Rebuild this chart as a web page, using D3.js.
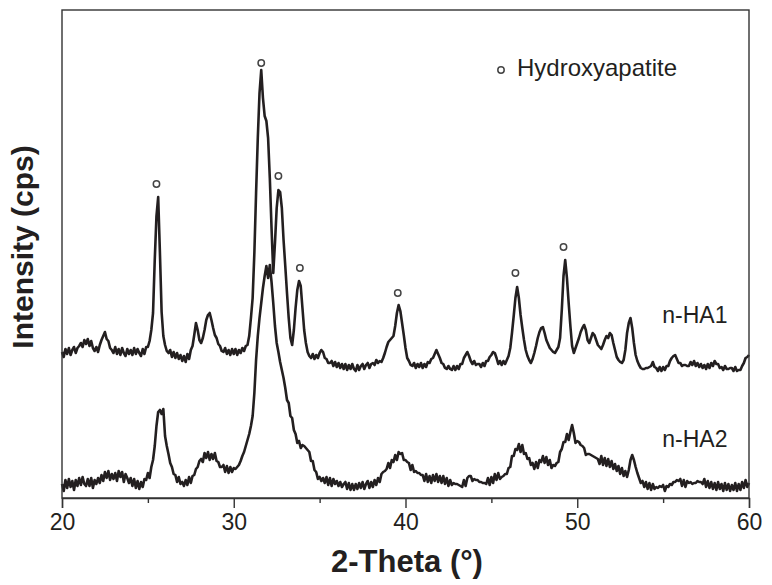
<!DOCTYPE html>
<html>
<head>
<meta charset="utf-8">
<script src="https://cdn.jsdelivr.net/npm/d3@7.9.0/dist/d3.min.js"></script>
<style>
  body { margin: 0; background: #fff; }
  svg { display: block; font-family: "Liberation Sans", Arial, sans-serif; }
</style>
</head>
<body>
<svg id="chart" width="772" height="585"></svg>
<script>
// 2-theta grid of the scan (degrees)
const angleStart = 20;
const angleStep = 0.1;

// intensity (arbitrary cps), one value per 0.1 deg
const ha1 = [
  146, 141, 149, 144, 150, 143, 148, 151, 145, 150,
  152, 155, 151, 158, 154, 159, 152, 157, 150, 147,
  151, 146, 153, 158, 162, 166, 159, 157, 150, 148,
  145, 151, 144, 149, 143, 150, 145, 142, 149, 144,
  148, 143, 150, 144, 149, 145, 142, 149, 144, 151,
  151, 157, 168, 185, 238, 282, 301, 246, 186, 162,
  153, 147, 145, 148, 141, 146, 140, 145, 139, 143,
  137, 142, 136, 144, 139, 148, 152, 163, 175, 168,
  158, 155, 160, 168, 178, 183, 185, 178, 170, 163,
  160, 154, 152, 147, 146, 150, 144, 148, 143, 149,
  144, 149, 143, 148, 145, 150, 147, 152, 153, 162,
  180, 200, 245, 305, 360, 405, 428, 400, 382, 377,
  360, 320, 270, 225, 255, 290, 308, 306, 290, 258,
  232, 205, 180, 160, 153, 168, 190, 208, 217, 212,
  190, 168, 155, 146, 142, 140, 144, 139, 143, 140,
  145, 148, 146, 140, 139, 135, 135, 137, 132, 136,
  131, 135, 130, 134, 129, 134, 128, 133, 129, 134,
  129, 127, 133, 128, 132, 134, 129, 133, 135, 130,
  134, 135, 133, 138, 135, 137, 136, 140, 145, 151,
  156, 158, 160, 162, 172, 185, 193, 187, 175, 163,
  150, 140, 137, 133, 132, 135, 130, 134, 131, 135,
  130, 134, 131, 136, 135, 139, 140, 144, 148, 144,
  140, 135, 134, 130, 129, 132, 129, 128, 132, 128,
  132, 129, 134, 134, 140, 143, 146, 142, 137, 134,
  137, 133, 134, 134, 131, 135, 132, 137, 137, 141,
  143, 146, 145, 140, 134, 137, 133, 137, 134, 138,
  142, 150, 165, 182, 200, 211, 200, 183, 170, 158,
  148, 142, 138, 135, 139, 145, 152, 160, 166, 170,
  171, 165, 158, 154, 150, 148, 146, 145, 148, 151,
  160, 188, 222, 238, 220, 195, 172, 152, 145, 150,
  155, 160, 166, 170, 173, 168, 158, 155, 160, 165,
  163, 158, 153, 151, 149, 153, 158, 162, 160, 165,
  163, 155, 148, 141, 138, 136, 135, 138, 148, 165,
  175, 180, 170, 155, 143, 137, 133, 130, 129, 129,
  130, 130, 131, 132, 136, 131, 130, 127, 131, 127,
  131, 128, 132, 132, 137, 140, 142, 143, 139, 135,
  135, 132, 133, 133, 132, 132, 136, 133, 137, 132,
  135, 131, 134, 130, 133, 129, 134, 130, 135, 132,
  137, 134, 134, 130, 131, 128, 132, 129, 129, 130,
  130, 127, 131, 127, 128, 128, 132, 135, 140, 141,
  143
];

const ha2 = [
  14, 7, 18, 10, 19, 11, 17, 8, 18, 12,
  20, 13, 21, 14, 12, 19, 12, 20, 10, 18,
  14, 20, 15, 23, 17, 26, 20, 27, 18, 24,
  19, 25, 17, 27, 21, 26, 16, 24, 20, 15,
  20, 12, 19, 10, 17, 9, 16, 11, 19, 18,
  25, 20, 31, 38, 52, 72, 86, 88, 84, 89,
  62, 52, 44, 35, 31, 24, 23, 16, 21, 14,
  16, 12, 18, 13, 21, 15, 22, 23, 29, 31,
  37, 39, 36, 45, 40, 46, 38, 44, 39, 45,
  37, 36, 31, 31, 33, 26, 32, 25, 31, 26,
  30, 29, 31, 33, 37, 42, 46, 52, 58, 64,
  72, 82, 105, 138, 162, 180, 195, 210, 222, 232,
  220, 233, 216, 195, 172, 155, 146, 136, 128, 120,
  110, 98, 95, 82, 80, 68, 64, 55, 57, 50,
  53, 52, 50, 48, 46, 37, 37, 28, 26, 19,
  21, 17, 20, 15, 21, 13, 20, 12, 19, 14,
  17, 12, 16, 11, 14, 16, 9, 15, 8, 14,
  8, 14, 9, 15, 10, 16, 9, 14, 17, 10,
  16, 11, 18, 13, 20, 16, 24, 26, 27, 29,
  35, 30, 38, 36, 43, 38, 46, 44, 45, 38,
  38, 36, 35, 28, 33, 26, 27, 25, 25, 23,
  23, 17, 24, 16, 22, 15, 23, 17, 24, 16,
  22, 15, 22, 14, 20, 12, 18, 13, 15, 14,
  14, 13, 12, 11, 18, 12, 20, 22, 22, 17,
  19, 18, 18, 16, 16, 15, 15, 14, 20, 13,
  21, 15, 24, 18, 25, 19, 21, 22, 24, 24,
  30, 31, 42, 42, 49, 48, 54, 46, 53, 44,
  45, 39, 40, 33, 35, 29, 36, 30, 38, 36,
  42, 35, 41, 33, 38, 30, 33, 32, 35, 36,
  46, 49, 56, 56, 64, 58, 66, 73, 65, 55,
  57, 56, 53, 52, 50, 43, 44, 44, 43, 42,
  41, 40, 39, 34, 42, 33, 40, 32, 39, 31,
  37, 29, 34, 27, 32, 24, 30, 22, 27, 21,
  28, 38, 43, 38, 31, 25, 20, 15, 17, 11,
  16, 9, 15, 8, 14, 9, 11, 10, 12, 11,
  13, 7, 12, 11, 14, 13, 16, 16, 18, 17,
  19, 12, 18, 11, 17, 15, 16, 14, 15, 15,
  17, 16, 16, 14, 19, 11, 17, 10, 16, 9,
  15, 8, 16, 9, 14, 7, 15, 8, 14, 7,
  13, 8, 15, 7, 14, 8, 16, 10, 18, 11,
  15
];

// hydroxyapatite reflections marked with a circle (angle, marker level)
const hapAngles = [25.5, 31.6, 32.6, 33.85, 39.55, 46.4, 49.2];
const hapLevels = [314, 435, 322, 230, 205, 225, 251];

const majorTicks = [20, 30, 40, 50, 60];
const minorTicks = [25, 35, 45, 55];

const seriesNames = ['n-HA1', 'n-HA2'];
const seriesLabelAt = [[54.95, 175], [54.95, 51]];

const ink = '#231f20';
const margin = { left: 62, right: 749, top: 10, bottom: 498 };

const svg = d3.select('#chart');

let x = d3.scaleLinear().domain([20, 60]).range([margin.left, margin.right]);
let y = d3.scaleLinear().domain([0, 488]).range([margin.bottom, margin.top]);

let line = d3.line()
  .x((d, i) => x(angleStart + i * angleStep))
  .y((d) => y(d));

// traces
[ha1, ha2].forEach((series) => {
  svg.append('path')
    .datum(series)
    .attr('d', line)
    .attr('fill', 'none')
    .attr('stroke', ink)
    .attr('stroke-width', 2.6)
    .attr('stroke-linejoin', 'round');
});

// frame
svg.append('rect')
  .attr('x', margin.left)
  .attr('y', margin.top)
  .attr('width', margin.right - margin.left)
  .attr('height', margin.bottom - margin.top)
  .attr('fill', 'none')
  .attr('stroke', '#333')
  .attr('stroke-width', 1.4);

// bottom axis: labelled major ticks + short minor ticks
let majorAxis = svg.append('g')
  .attr('transform', `translate(0,${margin.bottom})`)
  .call(d3.axisBottom(x).tickValues(majorTicks).tickSize(10).tickFormat(d3.format('d')));

majorAxis.select('.domain').attr('stroke', '#333').attr('stroke-width', 1.4);
majorAxis.selectAll('.tick line').attr('stroke', '#333').attr('stroke-width', 1.4);
majorAxis.selectAll('.tick text')
  .attr('y', 32)
  .attr('dy', 0)
  .attr('fill', ink)
  .style('font-size', '23px')
  .style('font-family', '"Liberation Sans", Arial, sans-serif');

let minorAxis = svg.append('g')
  .attr('transform', `translate(0,${margin.bottom})`)
  .call(d3.axisBottom(x).tickValues(minorTicks).tickSize(5).tickFormat(''));

minorAxis.select('.domain').remove();
minorAxis.selectAll('.tick line').attr('stroke', '#333').attr('stroke-width', 1.4);

// axis titles
svg.append('text')
  .attr('x', 407)
  .attr('y', 572)
  .attr('text-anchor', 'middle')
  .attr('font-size', 31)
  .attr('font-weight', 'bold')
  .attr('fill', ink)
  .text('2-Theta (°)');

svg.append('text')
  .attr('transform', 'translate(33,247) rotate(-90)')
  .attr('text-anchor', 'middle')
  .attr('font-size', 30)
  .attr('font-weight', 'bold')
  .attr('fill', ink)
  .text('Intensity (cps)');

// peak markers
svg.selectAll('circle.hap')
  .data(hapAngles)
  .join('circle')
  .attr('class', 'hap')
  .attr('cx', (d) => x(d))
  .attr('cy', (d, i) => y(hapLevels[i]))
  .attr('r', 3.2)
  .attr('fill', '#fff')
  .attr('stroke', '#444')
  .attr('stroke-width', 1.5);

// series labels
seriesNames.forEach((name, i) => {
  svg.append('text')
    .attr('x', x(seriesLabelAt[i][0]))
    .attr('y', y(seriesLabelAt[i][1]))
    .attr('font-size', 23)
    .attr('fill', ink)
    .text(name);
});

// legend
svg.append('circle')
  .attr('cx', 501)
  .attr('cy', 70)
  .attr('r', 3.2)
  .attr('fill', '#fff')
  .attr('stroke', '#444')
  .attr('stroke-width', 1.5);

svg.append('text')
  .attr('x', 517)
  .attr('y', 76)
  .attr('font-size', 24)
  .attr('fill', ink)
  .text('Hydroxyapatite');
</script>
</body>
</html>
